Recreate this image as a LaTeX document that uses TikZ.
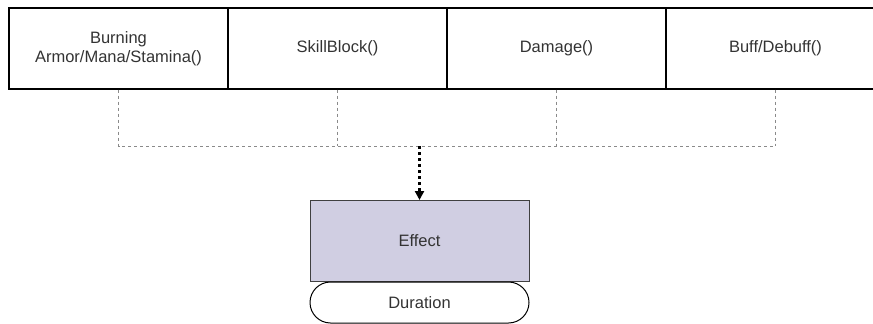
\documentclass[tikz,border=0pt]{standalone}
\usepackage{fontspec}
\setmainfont{Liberation Sans}
\usepackage{tikz}
\usetikzlibrary{arrows.meta}

\definecolor{txtgray}{HTML}{333333}
\definecolor{linkgray}{HTML}{8A8A8A}
\definecolor{effectfill}{HTML}{D0CEE2}

\tikzset{
    funcbox/.style={shape=rectangle,draw=black,line width=1.2pt,minimum width=219pt,minimum height=81pt,
        align=center,text=txtgray,font=\fontsize{16.5}{19}\selectfont,inner sep=0pt},
    link/.style={draw=linkgray,line width=1pt,dash pattern=on 3pt off 3pt},
    flow/.style={-{Triangle[length=9pt,width=9pt]},line width=2.2pt,dash pattern=on 2.5pt off 3.5pt,black}
}

\begin{document}
\begin{tikzpicture}[x=1pt,y=-1pt]
        \useasboundingbox (0,0) rectangle (873,324);
        \clip (0,0) rectangle (873,324);
        \node[funcbox] (B) at (118.5,48.5) {Burning\\Armor/Mana/Stamina()};
        \node[funcbox] (S) at (337.5,48.5) {SkillBlock()};
        \node[funcbox] (D) at (556.5,48.5) {Damage()};
        \node[funcbox] (F) at (775.5,48.5) {Buff/Debuff()};
        \coordinate (b) at (118.5,146);
        \coordinate (s) at (337.5,146);
        \coordinate (d) at (556.5,146);
        \coordinate (f) at (775.5,146);
        \coordinate (m) at (419.5,146);
        \node[funcbox,draw=black!75,fill=effectfill,line width=1pt] (E) at (419.5,241) {Effect};
        \node[funcbox,minimum height=41pt,rounded corners=20.5pt,line width=1pt] (T) at (419.5,302.5) {Duration};
        \path [link] (B) -- (b) -- (f);
        \path [link] (S) -- (s);
        \path [link] (D) -- (d);
        \path [link] (F) -- (f);
        \draw [flow] (m) -- (E);
    \end{tikzpicture}
\end{document}
